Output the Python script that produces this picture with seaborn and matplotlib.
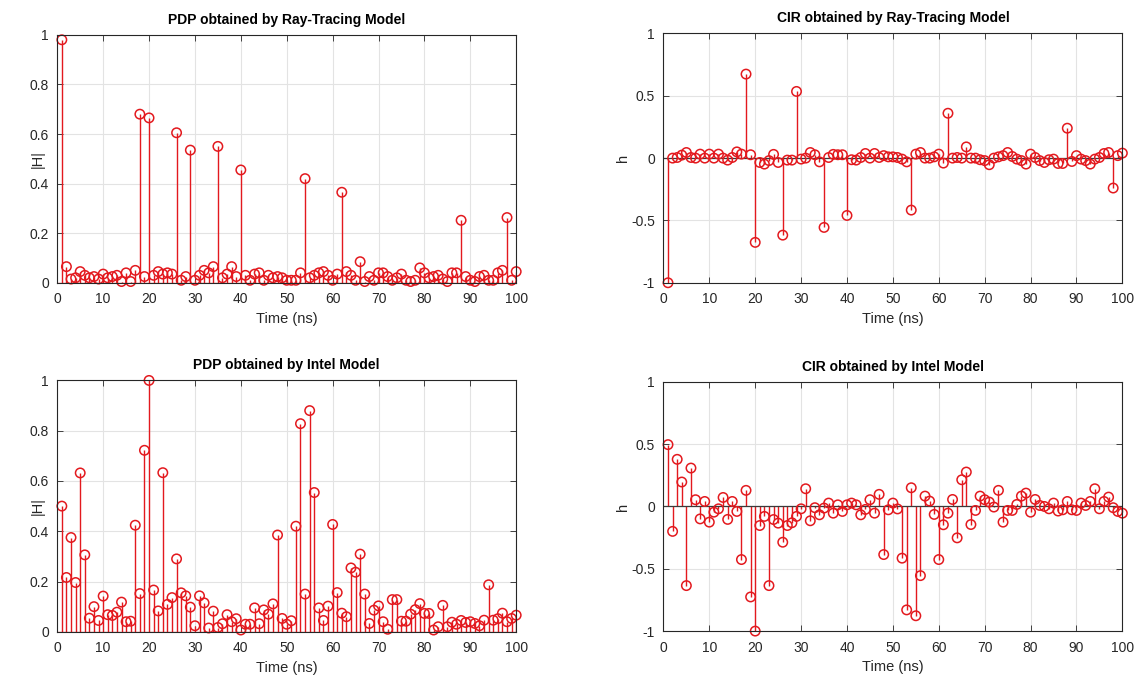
import numpy as np
import matplotlib
matplotlib.use("Agg")
import matplotlib.pyplot as plt
import seaborn as sns

# ---------------- data ----------------
time_ns = list(range(1, 101))

pdp_raytracing = [
    0.98, 0.065, 0.015, 0.02, 0.045, 0.03, 0.02, 0.025, 0.015, 0.035,
    0.02, 0.025, 0.03, 0.005, 0.04, 0.005, 0.05, 0.68, 0.025, 0.665,
    0.03, 0.045, 0.035, 0.04, 0.035, 0.605, 0.01, 0.025, 0.535, 0.01,
    0.03, 0.05, 0.04, 0.065, 0.55, 0.02, 0.035, 0.065, 0.025, 0.455,
    0.03, 0.01, 0.035, 0.04, 0.01, 0.03, 0.02, 0.025, 0.02, 0.01,
    0.01, 0.01, 0.04, 0.42, 0.02, 0.03, 0.04, 0.045, 0.03, 0.01,
    0.035, 0.365, 0.045, 0.03, 0.01, 0.085, 0.005, 0.025, 0.01, 0.04,
    0.04, 0.025, 0.01, 0.02, 0.035, 0.01, 0.005, 0.01, 0.06, 0.04,
    0.02, 0.025, 0.03, 0.015, 0.005, 0.04, 0.04, 0.252, 0.025, 0.01,
    0.005, 0.025, 0.03, 0.01, 0.01, 0.04, 0.05, 0.263, 0.01, 0.045,
]

cir_raytracing = [
    -1.0, 0.0, 0.005, 0.024, 0.045, 0.005, 0.0, 0.032, 0.0, 0.032,
    0.0, 0.032, 0.0, -0.016, 0.005, 0.05, 0.032, 0.674, 0.027, -0.676,
    -0.035, -0.048, -0.02, 0.03, -0.035, -0.618, -0.016, -0.016, 0.535, -0.008,
    0.0, 0.045, 0.027, -0.03, -0.556, 0.005, 0.03, 0.027, 0.027, -0.46,
    -0.013, -0.016, 0.005, 0.037, 0.0, 0.037, 0.005, 0.02, 0.01, 0.01,
    0.005, -0.008, -0.03, -0.417, 0.032, 0.045, 0.0, 0.0, 0.01, 0.032,
    -0.04, 0.36, 0.0, 0.005, 0.0, 0.09, 0.0, 0.0, -0.013, -0.02,
    -0.053, 0.0, 0.01, 0.02, 0.045, 0.013, -0.008, -0.02, -0.048, 0.032,
    0.005, -0.02, -0.035, -0.013, -0.008, -0.043, -0.043, 0.24, -0.027, 0.02,
    -0.008, -0.02, -0.048, -0.008, 0.005, 0.037, 0.045, -0.24, 0.02, 0.04,
]

pdp_intel = [
    0.50, 0.216, 0.375, 0.196, 0.632, 0.306, 0.054, 0.10, 0.045, 0.142,
    0.068, 0.065, 0.078, 0.118, 0.04, 0.042, 0.424, 0.152, 0.722, 1.0,
    0.166, 0.083, 0.633, 0.109, 0.136, 0.29, 0.155, 0.143, 0.098, 0.024,
    0.143, 0.115, 0.015, 0.082, 0.017, 0.032, 0.068, 0.04, 0.052, 0.007,
    0.03, 0.03, 0.095, 0.032, 0.087, 0.07, 0.111, 0.385, 0.053, 0.03,
    0.044, 0.42, 0.828, 0.15, 0.88, 0.554, 0.095, 0.045, 0.102, 0.427,
    0.156, 0.074, 0.06, 0.254, 0.237, 0.309, 0.15, 0.033, 0.086, 0.103,
    0.04, 0.01, 0.128, 0.128, 0.042, 0.042, 0.07, 0.088, 0.112, 0.073,
    0.073, 0.007, 0.02, 0.105, 0.02, 0.038, 0.03, 0.045, 0.037, 0.04,
    0.033, 0.024, 0.046, 0.187, 0.046, 0.052, 0.074, 0.04, 0.053, 0.066,
]

cir_intel = [
    0.496, -0.20, 0.378, 0.196, -0.635, 0.308, 0.054, -0.10, 0.04, -0.126,
    -0.046, -0.019, 0.072, -0.104, 0.04, -0.04, -0.426, 0.129, -0.726, -1.0,
    -0.153, -0.08, -0.635, -0.105, -0.134, -0.287, -0.153, -0.131, -0.08, -0.019,
    0.142, -0.115, -0.01, -0.067, -0.013, 0.027, -0.054, 0.013, -0.04, 0.013,
    0.027, 0.013, -0.067, -0.024, 0.054, -0.054, 0.097, -0.386, -0.027, 0.027,
    -0.02, -0.415, -0.83, 0.15, -0.877, -0.555, 0.083, 0.043, -0.064, -0.426,
    -0.147, -0.054, 0.056, -0.252, 0.214, 0.276, -0.145, -0.032, 0.083, 0.054,
    0.035, -0.005, 0.129, -0.126, -0.032, -0.032, 0.016, 0.083, 0.107, -0.046,
    0.056, 0.008, 0.0, -0.019, 0.027, -0.037, -0.027, 0.04, -0.027, -0.032,
    0.027, 0.008, 0.04, 0.142, -0.019, 0.04, 0.075, -0.01, -0.04, -0.054,
]

titles = [
    "PDP obtained by Ray-Tracing Model",
    "CIR obtained by Ray-Tracing Model",
    "PDP obtained by Intel Model",
    "CIR obtained by Intel Model",
]
ylabels = ["|H|", "h", "|H|", "h"]
xlabel = "Time (ns)"
x_ticks = [0, 10, 20, 30, 40, 50, 60, 70, 80, 90, 100]
x_ticklabels = ["0", "10", "20", "30", "40", "50", "60", "70", "80", "90", "100"]
pdp_yticks = [0, 0.2, 0.4, 0.6, 0.8, 1]
pdp_yticklabels = ["0", "0.2", "0.4", "0.6", "0.8", "1"]
cir_yticks = [-1, -0.5, 0, 0.5, 1]
cir_yticklabels = ["-1", "-0.5", "0", "0.5", "1"]

# ---------------- style ----------------
sns.set_theme(style="whitegrid")
plt.rcParams["font.family"] = ["Liberation Sans", "DejaVu Sans"]
RED = "#e3191e"
AX_COLOR = "#262626"
GRID_COLOR = "#e3e3e3"

fig = plt.figure(figsize=(11.36, 6.83), dpi=100)
fig.patch.set_facecolor("white")

positions = [
    [0.0504, 0.586, 0.4040, 0.363],
    [0.5840, 0.586, 0.4040, 0.365],
    [0.0504, 0.075, 0.4040, 0.368],
    [0.5840, 0.076, 0.4040, 0.365],
]
ylabel_x = [-0.027, -0.073, -0.027, -0.073]
series = [pdp_raytracing, cir_raytracing, pdp_intel, cir_intel]
is_pdp = [True, False, True, False]

for pos, vals, title, ylab, pdp, ylx in zip(positions, series, titles, ylabels,
                                             is_pdp, ylabel_x):
    ax = fig.add_axes(pos)
    ax.set_facecolor("white")
    # stems
    ax.vlines(time_ns, 0, vals, color=RED, linewidth=1.0, zorder=2)
    # baseline
    ax.axhline(0, color=RED if pdp else "#3a3a3a", linewidth=0.9, zorder=2.5)
    # markers
    sns.scatterplot(x=time_ns, y=vals, ax=ax, marker="o", s=46,
                    facecolor="none", edgecolor=RED, linewidth=1.1,
                    zorder=3, clip_on=False, legend=False)
    ax.set_xlim(0, 100)
    if pdp:
        ax.set_ylim(0, 1)
        ax.set_yticks(pdp_yticks)
        ax.set_yticklabels(pdp_yticklabels)
    else:
        ax.set_ylim(-1, 1)
        ax.set_yticks(cir_yticks)
        ax.set_yticklabels(cir_yticklabels)
    ax.set_xticks(x_ticks)
    ax.set_xticklabels(x_ticklabels)
    ax.grid(True, color=GRID_COLOR, linewidth=0.8)
    ax.set_axisbelow(True)
    for sp in ax.spines.values():
        sp.set_visible(True)
        sp.set_color(AX_COLOR)
        sp.set_linewidth(0.8)
        sp.set_zorder(4)
    ax.tick_params(axis="both", which="both", direction="in", length=4,
                   width=0.6, color=AX_COLOR, labelcolor=AX_COLOR,
                   labelsize=10, top=True, right=True, bottom=True, left=True)
    ax.tick_params(axis="x", pad=7)
    ax.tick_params(axis="y", pad=6)
    ax.set_title(title, fontsize=10, fontweight="bold", color="black", pad=8)
    ax.set_xlabel(xlabel, fontsize=10.5, color=AX_COLOR, labelpad=4)
    ax.set_ylabel(ylab, fontsize=10.5, color=AX_COLOR)
    ax.yaxis.set_label_coords(ylx, 0.5)

fig.savefig("out.png", dpi=100, facecolor="white")
